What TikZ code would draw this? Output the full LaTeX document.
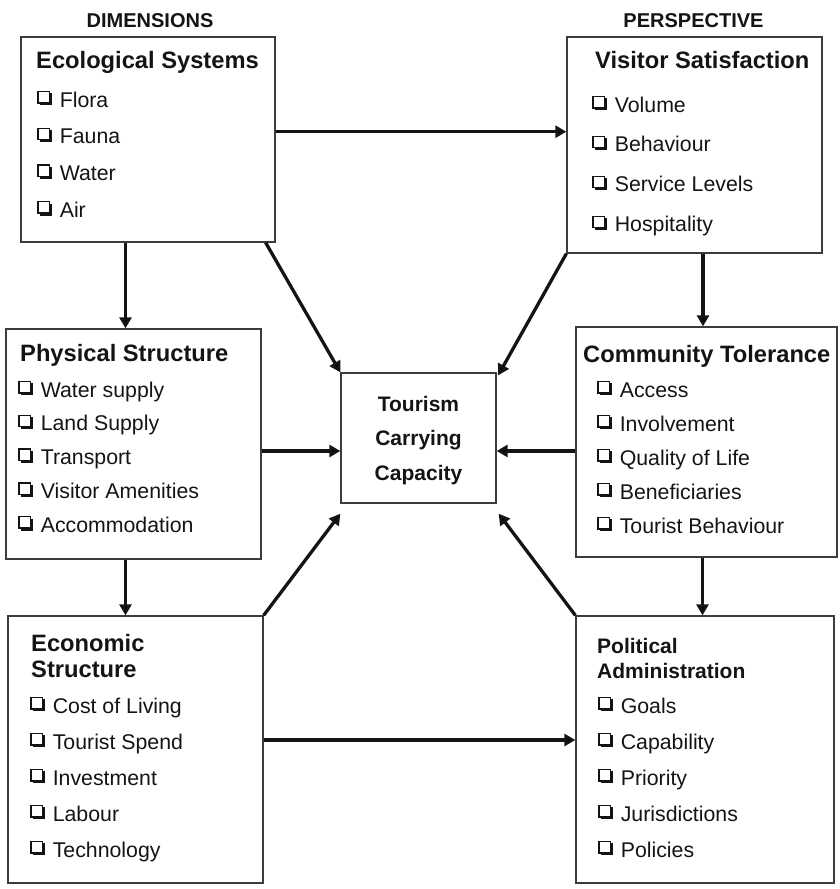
\documentclass[tikz,border=0pt]{standalone}
\usepackage{fontspec}
\setmainfont{Liberation Sans}
\usetikzlibrary{arrows.meta,calc}

\definecolor{framegray}{HTML}{3C3C3C}
\definecolor{inkblack}{HTML}{141414}

% shadowed check box used in front of every list entry
\newcommand{\chkbox}{\tikz[baseline=0pt,x=1pt,y=1pt]{%
  \fill[inkblack] (2.6,1.6) rectangle (14.6,13.6);%
  \draw[line width=1.4pt,draw=inkblack,fill=white] (0.7,4.2) rectangle (12,15.5);}}

\begin{document}
\begin{tikzpicture}[x=1pt,y=-1pt,
  frame/.style={draw=framegray,line width=1.3pt,inner sep=0pt},
  head/.style={font=\bfseries\fontsize{23.7}{26}\selectfont,text=inkblack,anchor=base west,inner sep=0pt},
  headsmall/.style={font=\bfseries\fontsize{21}{24}\selectfont,text=inkblack,anchor=base west,inner sep=0pt},
  toplabel/.style={font=\bfseries\fontsize{20}{24}\selectfont,text=inkblack,anchor=base,inner sep=0pt},
  core/.style={font=\bfseries\fontsize{21}{24}\selectfont,text=inkblack,anchor=base,inner sep=0pt},
  item/.style={font=\fontsize{21.3}{25}\selectfont,text=inkblack,anchor=base west,inner sep=0pt},
  arr/.style={line width=3.3pt,draw=inkblack,-{Triangle[length=11pt,width=12pt]}}]

\useasboundingbox (0,0) rectangle (839,889);

% column headings
\node[toplabel] (dimT) at (150,27) {DIMENSIONS};
\node[toplabel] (perT) at (693.5,27) {PERSPECTIVE};

% Ecological Systems
\node[frame,minimum width=254pt,minimum height=205pt] (eco) at (148,139.5) {};
\node[head] (ecoT) at (36,68) {Ecological Systems};
\foreach \t [count=\i] in {Flora,Fauna,Water,Air}
  \node[item] (eco\i) at (37,{107+36.7*(\i-1)}) {\chkbox\hspace{8pt}\t};

% Visitor Satisfaction
\node[frame,minimum width=255pt,minimum height=216pt] (vis) at (694.5,145) {};
\node[head] (visT) at (595,68) {Visitor Satisfaction};
\foreach \t [count=\i] in {Volume,Behaviour,Service Levels,Hospitality}
  \node[item] (vis\i) at (592,{112+39.9*(\i-1)}) {\chkbox\hspace{8pt}\t};

% Physical Structure
\node[frame,minimum width=255pt,minimum height=230pt] (phy) at (133.5,444) {};
\node[head] (phyT) at (20,361) {Physical Structure};
\foreach \t [count=\i] in {Water supply,Land Supply,Transport,Visitor Amenities,Accommodation}
  \node[item] (phy\i) at (18,{397+33.8*(\i-1)}) {\chkbox\hspace{8pt}\t};

% Tourism Carrying Capacity
\node[frame,minimum width=155pt,minimum height=130pt] (tour) at (418.5,438) {};
\node[core] (tour1) at (418.5,411) {Tourism};
\node[core] (tour2) at (418.5,445) {Carrying};
\node[core] (tour3) at (418.5,480) {Capacity};

% Community Tolerance
\node[frame,minimum width=261pt,minimum height=230pt] (com) at (706.5,442) {};
\node[head] (comT) at (583,362) {Community Tolerance};
\foreach \t [count=\i] in {Access,Involvement,Quality of Life,Beneficiaries,Tourist Behaviour}
  \node[item] (com\i) at (597,{397+34*(\i-1)}) {\chkbox\hspace{8pt}\t};

% Economic Structure
\node[frame,minimum width=255pt,minimum height=267pt] (econ) at (135.5,749.5) {};
\node[head] (econT1) at (31,651.7) {Economic};
\node[head] (econT2) at (31,677) {Structure};
\foreach \t [count=\i] in {Cost of Living,Tourist Spend,Investment,Labour,Technology}
  \node[item] (econ\i) at (30,{713+36*(\i-1)}) {\chkbox\hspace{8pt}\t};

% Political Administration
\node[frame,minimum width=258pt,minimum height=267pt] (pol) at (705,749.5) {};
\node[headsmall] (polT1) at (597,653) {Political};
\node[headsmall] (polT2) at (597,678) {Administration};
\foreach \t [count=\i] in {Goals,Capability,Priority,Jurisdictions,Policies}
  \node[item] (pol\i) at (598,{713+36*(\i-1)}) {\chkbox\hspace{8pt}\t};

% connectors between the blocks
\coordinate (ev) at ($(eco.east)+(0,-7.8)$);
\draw[arr] (ev) -- (ev -| vis.west);

\coordinate (ep) at ($(eco.south)+(-22.5,0)$);
\draw[arr] (ep) -- (ep |- phy.north);

\coordinate (vc) at ($(vis.south)+(8.5,0)$);
\draw[arr] (vc) -- (vc |- com.north);

\coordinate (pe) at ($(phy.south)+(-8,0)$);
\draw[arr] (pe) -- (pe |- econ.north);

\coordinate (cp) at ($(com.south)+(-4,0)$);
\draw[arr] (cp) -- (cp |- pol.north);

\coordinate (ep2) at ($(econ.east)+(0,-9.5)$);
\draw[arr] (ep2) -- (ep2 -| pol.west);

\coordinate (pt) at ($(phy.east)+(0,7)$);
\draw[arr] (pt) -- (pt -| tour.west);

\coordinate (ct) at ($(com.west)+(0,9)$);
\draw[arr] (ct) -- (ct -| tour.east);

\draw[arr] ($(eco.south east)+(-10,0)$) -- (tour.north west);
\draw[arr] (vis.south west) -- ($(tour.north east)+(1.5,3)$);
\draw[arr] (econ.north east) -- ($(tour.south west)+(0,10)$);
\draw[arr] (pol.north west) -- ($(tour.south east)+(2,10)$);

\end{tikzpicture}
\end{document}
